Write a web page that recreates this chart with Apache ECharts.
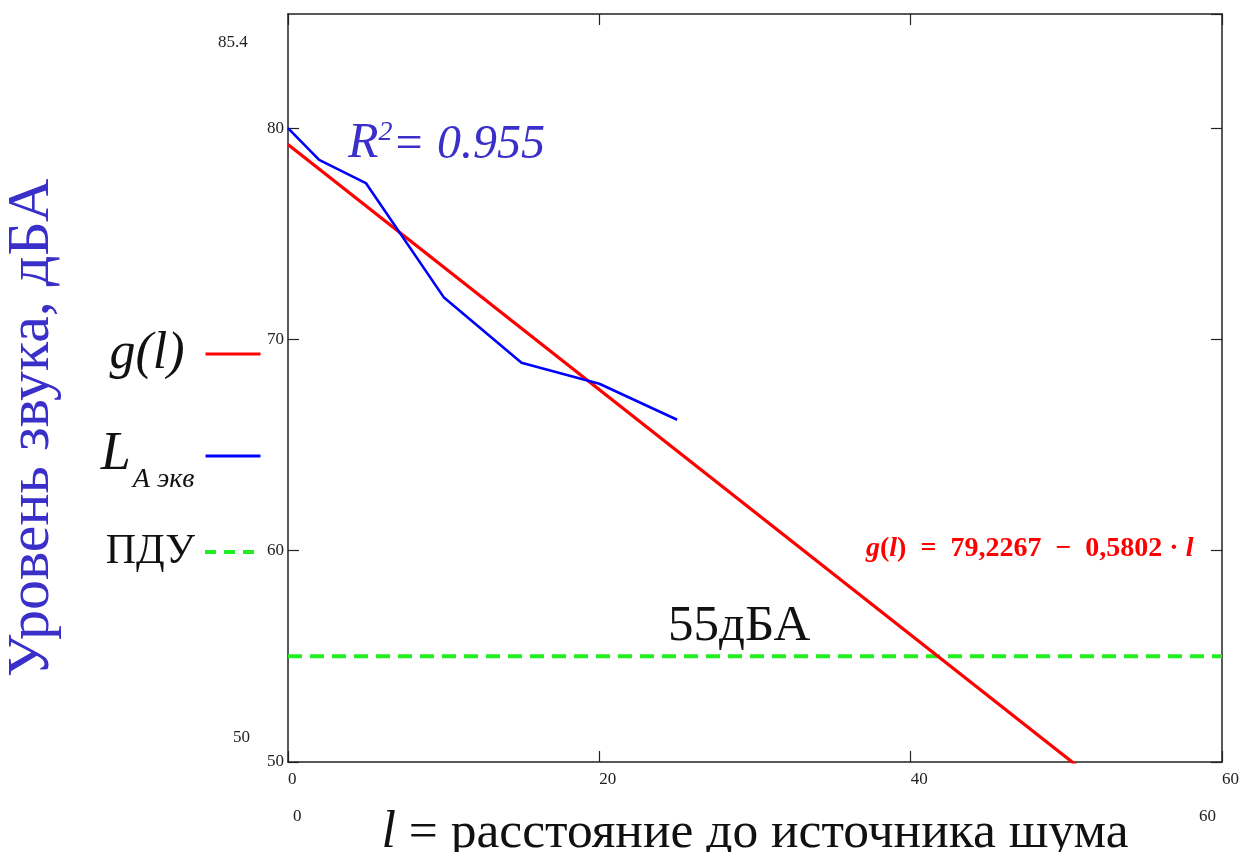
<!DOCTYPE html>
<html><head><meta charset="utf-8">
<script src="https://cdn.jsdelivr.net/npm/echarts@6/dist/echarts.min.js"></script>
<style>html,body{margin:0;padding:0;background:#fff}#c{width:1240px;height:852px}</style>
</head><body><div id="c"></div>
<script>
// measured data
const lX = [0, 2, 5, 10, 15, 20, 25];
const lY = [80.0, 78.5, 77.4, 72.0, 68.9, 67.9, 66.2];
const gX = [0, 60];
const gY = [79.2267, 44.4147];
const pduX = [0, 60];
const pduY = [55, 55];
const xRange = [0, 60];
const yRange = [50, 85.4];
const xStep = 20;
const yStep = 10;

const zip = (a, b) => a.map((v, i) => [v, b[i]]);
const SERIF = '"Liberation Serif", "DejaVu Serif", serif';
const AXC = '#222';
const TITLEC = '#3a2fc8';

const chart = echarts.init(document.getElementById('c'), null, {renderer: 'canvas'});
const baseX = {
  type: 'value', min: xRange[0], max: xRange[1], interval: xStep,
  splitLine: {show: false},
  axisLine: {show: true, onZero: false, lineStyle: {color: AXC, width: 1.5}},
  axisTick: {show: true, inside: true, length: 11, lineStyle: {color: AXC, width: 1.2}}
};
const baseY = {
  type: 'value', min: yRange[0], max: yRange[1], interval: yStep,
  splitLine: {show: false},
  axisLine: {show: true, onZero: false, lineStyle: {color: AXC, width: 1.5}},
  axisTick: {show: true, inside: true, length: 11, lineStyle: {color: AXC, width: 1.2}}
};

const legendRich = {
  g: {fontFamily: SERIF, fontStyle: 'italic', fontSize: 52, color: '#111', padding: [0, 16, 0, 0]},
  p: {fontFamily: SERIF, fontSize: 42, color: '#111', padding: [0, 5, 0, 0]},
  L: {fontFamily: SERIF, fontStyle: 'italic', fontSize: 54, color: '#111', lineHeight: 56, verticalAlign: 'top'},
  s: {fontFamily: SERIF, fontStyle: 'italic', fontSize: 28, color: '#111', lineHeight: 28, verticalAlign: 'bottom', padding: [0, 6, -10, 2]}
};
function legendFor(name, top, lineStyle) {
  return {
    orient: 'vertical', right: 978, top: top, align: 'right',
    itemWidth: 55, itemHeight: 10, padding: 0,
    itemStyle: {opacity: 0, borderWidth: 0},
    data: [{name: name, lineStyle: lineStyle}],
    formatter: n => n === 'g(l)' ? '{g|g(l)}' : (n === 'ПДУ' ? '{p|ПДУ}' : '{L|L}{s|A экв}'),
    textStyle: {rich: legendRich}
  };
}

chart.setOption({
  animation: false,
  backgroundColor: '#fff',
  grid: {left: 288, right: 18, top: 14, bottom: 90, containLabel: false, outerBoundsMode: 'none'},
  xAxis: [
    Object.assign({}, baseX, {
      position: 'bottom',
      axisLabel: {show: true, align: 'left', margin: 9, fontFamily: SERIF, fontSize: 17, color: '#222', showMaxLabel: true, showMinLabel: true},
      name: '{i|l}{t| = расстояние до источника шума}',
      nameLocation: 'middle', nameGap: 45,
      nameTextStyle: {
        rich: {
          i: {fontFamily: SERIF, fontStyle: 'italic', fontSize: 52, color: '#111'},
          t: {fontFamily: SERIF, fontSize: 51.5, color: '#111'}
        }
      }
    }),
    Object.assign({}, baseX, {position: 'top', axisLabel: {show: false}})
  ],
  yAxis: [
    Object.assign({}, baseY, {
      position: 'left',
      axisLabel: {show: true, margin: 4, fontFamily: SERIF, fontSize: 17, color: '#222', showMaxLabel: false,
        formatter: v => (v % 10 === 0 ? String(v) : '')},
      name: 'Уровень звука, дБА',
      nameLocation: 'middle', nameRotate: 90, nameGap: 226,
      nameTextStyle: {fontFamily: SERIF, fontSize: 60, color: TITLEC, padding: [0, 80, 0, 0]}
    }),
    Object.assign({}, baseY, {position: 'right', axisLabel: {show: false}})
  ],
  legend: [
    legendFor('g(l)', 328, {width: 3}),
    legendFor('L A экв', 428, {width: 3}),
    legendFor('ПДУ', 531, {width: 4, type: [11, 8]})
  ],
  series: [
    {
      name: 'g(l)', type: 'line', data: zip(gX, gY), symbol: 'none', clip: true, z: 3,
      lineStyle: {color: '#ff0000', width: 3.2}, itemStyle: {color: '#ff0000'}
    },
    {
      name: 'L A экв', type: 'line', data: zip(lX, lY), symbol: 'none', clip: true, z: 4,
      lineStyle: {color: '#0000ff', width: 2.6}, itemStyle: {color: '#0000ff'}
    },
    {
      name: 'ПДУ', type: 'line', data: zip(pduX, pduY), symbol: 'none', clip: true, z: 2,
      lineStyle: {color: '#22ee22', width: 4, type: [14, 8]}, itemStyle: {color: '#22ee22'}
    }
  ],
  graphic: [
    {type: 'text', left: 218, top: 34, style: {text: '85.4', font: '17px ' + SERIF, fill: '#222'}},
    {type: 'text', left: 233, top: 729, style: {text: '50', font: '17px ' + SERIF, fill: '#222'}},
    {type: 'text', left: 293, top: 808, style: {text: '0', font: '17px ' + SERIF, fill: '#222'}},
    {type: 'text', left: 1199, top: 808, style: {text: '60', font: '17px ' + SERIF, fill: '#222'}},
    {type: 'text', left: 348, top: 119, style: {
      text: '{r|R}{s|2}{t|= 0.955}',
      rich: {
        r: {fontFamily: SERIF, fontStyle: 'italic', fontSize: 50, fill: TITLEC, verticalAlign: 'bottom'},
        s: {fontFamily: SERIF, fontStyle: 'italic', fontSize: 28, fill: TITLEC, verticalAlign: 'top'},
        t: {fontFamily: SERIF, fontStyle: 'italic', fontSize: 48, fill: TITLEC, verticalAlign: 'bottom'}
      }
    }},
    {type: 'text', left: 668, top: 601, style: {text: '55дБА', font: '51px ' + SERIF, fill: '#111'}},
    {type: 'text', left: 866, top: 535, style: {
      text: '{i|g}{b|(}{i|l}{b|)\u2002=\u200279,2267\u2002−\u20020,5802 · }{i|l}',
      rich: {
        i: {fontFamily: SERIF, fontStyle: 'italic', fontWeight: 'bold', fontSize: 28, fill: '#ff0000'},
        b: {fontFamily: SERIF, fontWeight: 'bold', fontSize: 28, fill: '#ff0000'}
      }
    }}
  ]
});
</script>
</body></html>
